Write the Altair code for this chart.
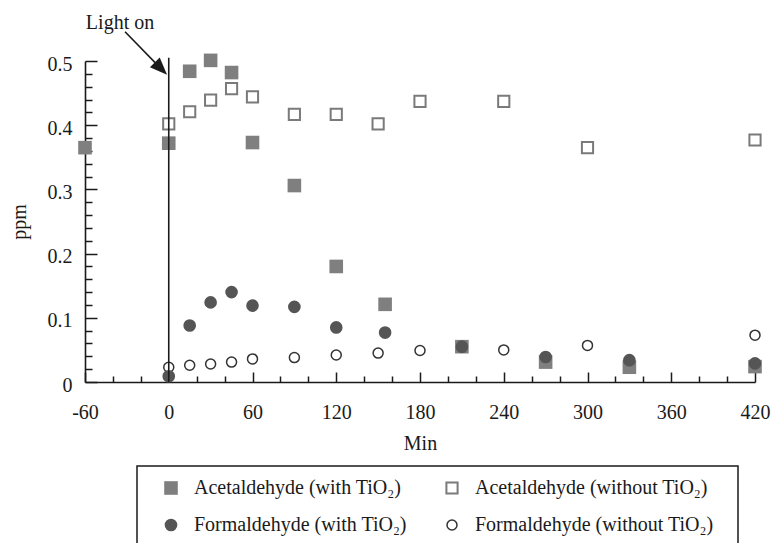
import altair as alt
import pandas as pd

FONT = "Liberation Serif"
INK = "#1a1a1a"

# ---- data ----
series_names = [
    "Acetaldehyde (with TiO₂)",
    "Formaldehyde (with TiO₂)",
    "Acetaldehyde (without TiO₂)",
    "Formaldehyde (without TiO₂)",
]
min_acet_with = [-60, 0, 15, 30, 45, 60, 90, 120, 155, 210, 270, 330, 420]
acet_with = [0.365, 0.372, 0.484, 0.501, 0.482, 0.373, 0.306, 0.180, 0.121, 0.055, 0.031, 0.023, 0.024]
min_acet_without = [0, 15, 30, 45, 60, 90, 120, 150, 180, 240, 300, 420]
acet_without = [0.402, 0.421, 0.439, 0.457, 0.444, 0.417, 0.417, 0.402, 0.437, 0.437, 0.365, 0.377]
min_form_with = [0, 15, 30, 45, 60, 90, 120, 155, 210, 270, 330, 420]
form_with = [0.009, 0.088, 0.124, 0.140, 0.119, 0.117, 0.085, 0.077, 0.055, 0.039, 0.034, 0.029]
min_form_without = [0, 15, 30, 45, 60, 90, 120, 150, 180, 240, 300, 420]
form_without = [0.023, 0.026, 0.028, 0.031, 0.036, 0.038, 0.042, 0.045, 0.049, 0.050, 0.057, 0.073]

x_major = [-60, 0, 60, 120, 180, 240, 300, 360, 420]
x_all_ticks = list(range(-60, 421, 20))
y_major = [0, 0.1, 0.2, 0.3, 0.4, 0.5]
y_all_ticks = [round(i * 0.02, 2) for i in range(26)]

# annotation ("Light on" arrow)
light_x = [0]
light_y0 = [0]
light_y1 = [0.505]
arrow_x = [-31.3]
arrow_y = [0.5456]
arrow_x2 = [-5.6]
arrow_y2 = [0.4882]
label_text = ["Light on"]
label_x = [-34.9]
label_y = [0.5498]

# ---- tables ----
rows = []
for xs, ys, name in [
    (min_acet_without, acet_without, series_names[2]),
    (min_form_without, form_without, series_names[3]),
    (min_acet_with, acet_with, series_names[0]),
    (min_form_with, form_with, series_names[1]),
]:
    for a, b in zip(xs, ys):
        rows.append({"Min": a, "ppm": b, "series": name})
df = pd.DataFrame(rows)

W, H = 670, 321
xscale = alt.Scale(domain=[-60, 420], nice=False, zero=False)
yscale = alt.Scale(domain=[0, 0.5], nice=False, zero=False)

x_label_axis = alt.Axis(
    values=x_major, orient="bottom", tickSize=0, labelPadding=20,
    labelExpr="datum.value < 0 ? '-' + abs(datum.value) : '' + datum.value",
    labelFont=FONT, labelFontSize=20, labelColor=INK, labelFlush=False, labelOverlap=False,
    domainColor=INK, domainWidth=1.6, grid=False,
    title="Min", titleFont=FONT, titleFontSize=20, titleFontWeight="normal", titleColor=INK,
    titleY=67, titleBaseline="alphabetic",
)
y_label_axis = alt.Axis(
    values=y_major, format="~g", orient="left", tickSize=0, labelPadding=13,
    labelFont=FONT, labelFontSize=20, labelColor=INK, labelOffset=3, labelBaseline="middle",
    domainColor=INK, domainWidth=1.6, grid=False,
    title="ppm", titleFont=FONT, titleFontSize=20, titleFontWeight="normal", titleColor=INK,
    titleX=-66, titleY=H / 2, titleBaseline="middle", titleAngle=-90, titleAlign="center",
)
x_tick_axis = alt.Axis(
    values=x_all_ticks, orient="top", offset=-H, labels=False, domain=False, grid=False,
    title=None, tickColor=INK, tickWidth=1.5,
    tickSize={"condition": {"test": "abs(datum.value/60 - round(datum.value/60)) < 0.001", "value": 10}, "value": 6},
)
y_tick_axis = alt.Axis(
    values=y_all_ticks, orient="right", offset=-W, labels=False, domain=False, grid=False,
    title=None, tickColor=INK, tickWidth=1.5,
    tickSize={"condition": {"test": "abs(datum.value*10 - round(datum.value*10)) < 0.001", "value": 12}, "value": 7},
)

points = alt.Chart(df).mark_point(filled=True, opacity=1).encode(
    x=alt.X("Min:Q", scale=xscale, axis=x_label_axis),
    y=alt.Y("ppm:Q", scale=yscale, axis=y_label_axis),
    shape=alt.Shape("series:N", title=None, sort=None,
                    scale=alt.Scale(domain=series_names, range=["square", "circle", "square", "circle"])),
    fill=alt.Fill("series:N", title=None, sort=None,
                  scale=alt.Scale(domain=series_names, range=["#7f7f7f", "#555555", "transparent", "transparent"])),
    stroke=alt.Stroke("series:N", title=None, sort=None,
                      scale=alt.Scale(domain=series_names, range=["#7f7f7f", "#555555", "#7a7a7a", "#333333"])),
    strokeWidth=alt.StrokeWidth("series:N", title=None, sort=None,
                                scale=alt.Scale(type="ordinal", domain=series_names, range=[0, 0, 2, 1.5])),
    size=alt.Size("series:N", title=None, sort=None,
                  scale=alt.Scale(type="ordinal", domain=series_names, range=[185, 160, 125, 100])),
)

light_df = pd.DataFrame({"x": light_x, "y0": light_y0, "y1": light_y1})
light_line = alt.Chart(light_df).mark_rule(color=INK, strokeWidth=1.6).encode(
    x=alt.X("x:Q", scale=xscale, axis=x_tick_axis),
    y=alt.Y("y0:Q", scale=yscale, axis=y_tick_axis),
    y2="y1:Q",
)

arrow_df = pd.DataFrame({"x": arrow_x, "y": arrow_y, "x2": arrow_x2, "y2": arrow_y2})
arrow_line = alt.Chart(arrow_df).mark_rule(color=INK, strokeWidth=1.6).encode(
    x=alt.X("x:Q", scale=xscale, axis=None),
    y=alt.Y("y:Q", scale=yscale, axis=None),
    x2="x2:Q", y2="y2:Q",
)
arrow_head = alt.Chart(arrow_df).mark_point(
    shape="M0,-1L-0.8,1L0.8,1Z", filled=True, opacity=1, color=INK, size=300, angle=135, strokeWidth=0
).encode(
    x=alt.X("x2:Q", scale=xscale, axis=None),
    y=alt.Y("y2:Q", scale=yscale, axis=None),
)

label_df = pd.DataFrame({"x": label_x, "y": label_y, "t": label_text})
label = alt.Chart(label_df).mark_text(
    font=FONT, fontSize=20, color=INK, align="center", baseline="alphabetic"
).encode(
    x=alt.X("x:Q", scale=xscale, axis=None),
    y=alt.Y("y:Q", scale=yscale, axis=None),
    text="t:N",
)

box = alt.Chart(pd.DataFrame({"k": [0]})).mark_rect(
    fill="transparent", stroke=INK, strokeWidth=1.5
).encode(
    x=alt.value(52), x2=alt.value(653), y=alt.value(405), y2=alt.value(520),
)

chart = alt.layer(points, light_line, arrow_line, arrow_head, label, box).resolve_axis(
    x="independent", y="independent"
).properties(
    width=W, height=H,
    autosize=alt.AutoSizeParams(type="none"),
    padding={"left": 85, "top": 61, "right": 16, "bottom": 161},
).configure_view(strokeWidth=0).configure_legend(
    orient="none", legendX=76, legendY=417, columns=2, padding=0,
    labelFont=FONT, labelFontSize=20, labelColor=INK, labelOffset=13, labelLimit=400,
    columnPadding=35, rowPadding=17, titleFontSize=0,
)

chart.save("out.html", embed_options={"renderer": "svg", "actions": False})
